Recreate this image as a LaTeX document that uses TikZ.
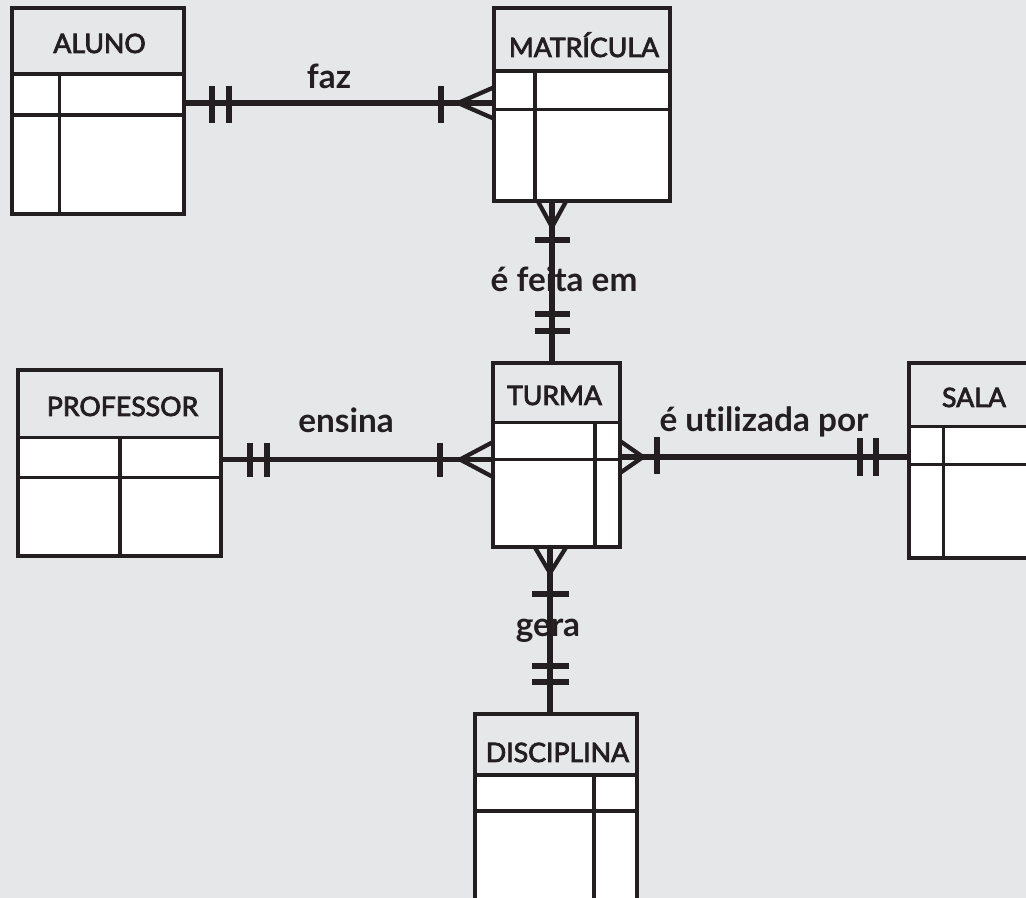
\documentclass[tikz,border=0pt]{standalone}
\usepackage{fontspec}
\setmainfont{Lato}[Ligatures=NoCommon]
\newfontfamily\hdrfont{Lato}[Ligatures=NoCommon,FakeBold=3]
\usetikzlibrary{fit}
\definecolor{bg}{HTML}{E6E7E9}
\definecolor{ink}{HTML}{231F20}
\newcommand\ertable[8]{% name, left, top, right, bottom, header y, row y, divider x
  \fill[white] (#2,#3) rectangle (#4,#5);
  \fill[bg] (#2,#3) rectangle (#4,#6);
  \draw[hline] (#2,#6) -- (#4,#6);
  \draw[rline] (#2,#7) -- (#4,#7);
  \draw[hline] (#8,#6) -- (#8,#5);
  \node[tblbox, fit={(#2,#3) (#4,#5)}] (#1) {};
}
\begin{document}
\begin{tikzpicture}[x=0.75pt,y=-0.75pt,
  tblbox/.style={draw=ink, line width=3pt, inner sep=0pt},
  hline/.style={draw=ink, line width=2.8pt},
  rline/.style={draw=ink, line width=2.3pt},
  conn/.style={draw=ink, line width=4pt},
  tick/.style={draw=ink, line width=4.5pt},
  prong/.style={draw=ink, line width=3.2pt},
  title/.style={font=\hdrfont\fontsize{20}{24}\selectfont, text=ink, anchor=base, inner sep=0pt},
  lbl/.style={font=\bfseries\fontsize{25}{30}\selectfont, text=ink, anchor=base, inner sep=0pt}]
\useasboundingbox (0,0) rectangle (1026,898);
\fill[bg] (0,0) rectangle (1026,898);
\clip (0,0) rectangle (1026,898);

% tables
\ertable{aluno}{12}{8}{184}{214}{74}{115}{59.5}
\ertable{matricula}{493.5}{8.5}{670}{201.5}{71}{109.5}{535}
\ertable{turma}{493}{363.5}{620}{547.5}{422.5}{459.5}{595}
\ertable{professor}{17.5}{370}{221}{556.5}{437.5}{477.5}{120}
\ertable{sala}{909}{363.5}{1045}{558}{426.5}{464.5}{943.5}
\ertable{disciplina}{475}{714.5}{637}{915}{775}{811}{594}

% titles
\node[title] (t-aluno) at (99.5,53) {ALUNO};
\node[title] (t-matricula) at (584,57) {MATRÍCULA};
\node[title] (t-turma) at (554.5,405) {TURMA};
\node[title] (t-professor) at (122.5,416) {PROFESSOR};
\node[title] (t-sala) at (974,407) {SALA};
\node[title] (t-disciplina) at (557.5,762) {DISCIPLINA};

% relationship labels
\node[lbl] (l-faz) at (329,89) {faz};
\node[lbl] (l-ensina) at (346,433) {ensina};
\node[lbl] (l-feita) at (564,292) {é feita em};
\node[lbl] (l-util) at (764,432) {é utilizada por};
\node[lbl] (l-gera) at (548,637) {gera};

% connection points
\coordinate (fazA) at (184,103);   \coordinate (fazB) at (493.5,103);
\coordinate (feiA) at (552,201.5); \coordinate (feiB) at (552,363.5);
\coordinate (ensA) at (221,459.5); \coordinate (ensB) at (493,459.5);
\coordinate (utiA) at (620,457);   \coordinate (utiB) at (909,457);
\coordinate (gerA) at (550,547.5); \coordinate (gerB) at (550,714.5);

% faz
\draw[conn] (fazA) -- (fazB);
\draw[tick] (212,86) -- (212,123);
\draw[tick] (228.5,86) -- (228.5,123);
\draw[tick] (441,86) -- (441,123);
\draw[prong] (493.5,87.5) -- (458,103) -- (493.5,118.5);

% e feita em
\draw[conn] (feiA) -- (feiB);
\draw[prong] (538,201.5) -- (552,227) -- (566,201.5);
\draw[tick] (535,240) -- (570,240);
\draw[tick] (535,314.5) -- (570,314.5);
\draw[tick] (535,331) -- (570,331);

% ensina
\draw[conn] (ensA) -- (ensB);
\draw[tick] (249.5,443) -- (249.5,477);
\draw[tick] (266.5,443) -- (266.5,477);
\draw[tick] (440,443) -- (440,477);
\draw[prong] (493,442) -- (460,459.5) -- (493,477);

% e utilizada por
\draw[conn] (utiA) -- (utiB);
\draw[prong] (620,441) -- (643,457) -- (620,473);
\draw[tick] (657,437) -- (657,474);
\draw[tick] (860,438) -- (860,476);
\draw[tick] (876,438) -- (876,476);

% gera
\draw[conn] (gerA) -- (gerB);
\draw[prong] (535,547.5) -- (550,573) -- (566,547.5);
\draw[tick] (532,594) -- (569,594);
\draw[tick] (532,666) -- (569,666);
\draw[tick] (532,682.5) -- (569,682.5);
\end{tikzpicture}
\end{document}
